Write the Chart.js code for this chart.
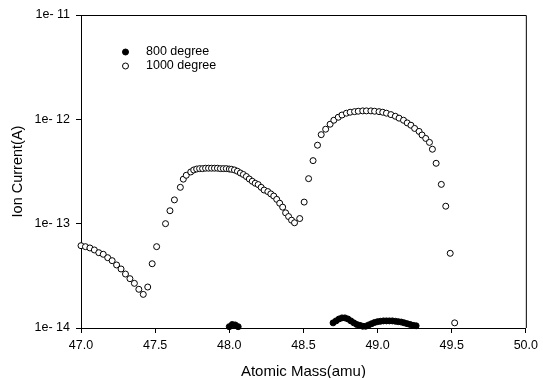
<!DOCTYPE html>
<html>
<head>
<meta charset="utf-8">
<script src="https://cdn.jsdelivr.net/npm/chart.js@4"></script>
<style>
  html, body { margin: 0; padding: 0; background: #fff; }
  #wrap { width: 543px; height: 378px; }
</style>
</head>
<body>
<div id="wrap"><canvas id="chart"></canvas></div>
<script>
// 1000 degree (open circles)
const mass1000 = [
    47.00, 47.03, 47.06, 47.09, 47.12, 47.15, 47.18, 47.21, 47.24, 47.27,
    47.30, 47.33, 47.36, 47.39, 47.42, 47.45, 47.48, 47.51, 47.57, 47.60,
    47.63, 47.67, 47.69, 47.71, 47.74, 47.76, 47.78, 47.80, 47.82, 47.84,
    47.86, 47.88, 47.90, 47.92, 47.94, 47.96, 47.98, 48.00, 48.015, 48.035,
    48.055, 48.075, 48.095, 48.115, 48.135, 48.155, 48.175, 48.195, 48.215, 48.235,
    48.26, 48.28, 48.30, 48.32, 48.34, 48.36, 48.38, 48.40, 48.42, 48.44,
    48.475, 48.505, 48.535, 48.565, 48.595, 48.62, 48.65, 48.68, 48.705, 48.735,
    48.76, 48.79, 48.815, 48.845, 48.87, 48.90, 48.925, 48.955, 48.98, 49.01,
    49.035, 49.06, 49.09, 49.12, 49.145, 49.175, 49.20, 49.225, 49.25, 49.28,
    49.30, 49.325, 49.35, 49.37, 49.395, 49.43, 49.46, 49.49, 49.52
];
const current1000 = [
    6.15e-14, 6.02e-14, 5.85e-14, 5.60e-14, 5.27e-14, 5.09e-14, 4.72e-14, 4.42e-14, 4.02e-14, 3.68e-14,
    3.29e-14, 2.97e-14, 2.68e-14, 2.35e-14, 2.10e-14, 2.47e-14, 4.13e-14, 6.02e-14, 1.00e-13, 1.33e-13,
    1.69e-13, 2.23e-13, 2.67e-13, 2.91e-13, 3.13e-13, 3.27e-13, 3.34e-13, 3.37e-13, 3.37e-13, 3.40e-13,
    3.40e-13, 3.40e-13, 3.40e-13, 3.40e-13, 3.37e-13, 3.37e-13, 3.37e-13, 3.34e-13, 3.32e-13, 3.27e-13,
    3.18e-13, 3.06e-13, 2.96e-13, 2.83e-13, 2.68e-13, 2.55e-13, 2.44e-13, 2.37e-13, 2.23e-13, 2.10e-13,
    2.03e-13, 1.93e-13, 1.84e-13, 1.71e-13, 1.57e-13, 1.44e-13, 1.27e-13, 1.17e-13, 1.08e-13, 1.02e-13,
    1.12e-13, 1.61e-13, 2.70e-13, 4.02e-13, 5.65e-13, 7.13e-13, 8.04e-13, 8.98e-13, 9.80e-13, 1.047e-12,
    1.10e-12, 1.145e-12, 1.17e-12, 1.185e-12, 1.196e-12, 1.205e-12, 1.205e-12, 1.205e-12, 1.196e-12, 1.185e-12,
    1.17e-12, 1.145e-12, 1.11e-12, 1.07e-12, 1.026e-12, 9.80e-13, 9.24e-13, 8.78e-13, 8.18e-13, 7.66e-13,
    7.08e-13, 6.56e-13, 6.01e-13, 5.17e-13, 3.79e-13, 2.38e-13, 1.47e-13, 5.20e-14, 1.12e-14
];

// 800 degree (filled circles)
const mass800 = [
    48.00, 48.02, 48.04, 48.06,
    48.70, 48.72, 48.74, 48.76, 48.78, 48.80, 48.82, 48.84, 48.86, 48.88,
    48.90, 48.92, 48.94, 48.96, 48.98, 49.00, 49.02, 49.04, 49.06, 49.08,
    49.10, 49.12, 49.14, 49.16, 49.18, 49.20, 49.22, 49.24, 49.26
];
const current800 = [
    1.03e-14, 1.08e-14, 1.07e-14, 1.03e-14,
    1.12e-14, 1.17e-14, 1.22e-14, 1.25e-14, 1.25e-14, 1.22e-14, 1.17e-14, 1.12e-14, 1.08e-14, 1.06e-14,
    1.04e-14, 1.04e-14, 1.07e-14, 1.10e-14, 1.13e-14, 1.15e-14, 1.16e-14, 1.17e-14, 1.17e-14, 1.17e-14,
    1.17e-14, 1.16e-14, 1.15e-14, 1.14e-14, 1.12e-14, 1.10e-14, 1.08e-14, 1.06e-14, 1.05e-14
];

const xTicks = [47.0, 47.5, 48.0, 48.5, 49.0, 49.5, 50.0];
const yTicks = [1e-14, 1e-13, 1e-12, 1e-11];
const yTickLabels = ['1e- 14', '1e- 13', '1e- 12', '1e- 11'];
const seriesNames = ['800 degree', '1000 degree'];

const FONT = "'Liberation Sans', Arial, sans-serif";

function toPoints(xs, ys) {
    return xs.map((x, i) => ({ x: x, y: ys[i] }));
}

// box around the plot + legend in the upper left
const framePlugin = {
    id: 'frame',
    afterDraw(chart) {
        const { ctx, chartArea: a } = chart;
        ctx.save();
        ctx.strokeStyle = '#000';
        ctx.lineWidth = 1;
        ctx.beginPath();
        ctx.moveTo(a.left, a.top + 0.5);
        ctx.lineTo(a.right + 0.5, a.top + 0.5);
        ctx.lineTo(a.right + 0.5, a.bottom);
        ctx.stroke();

        ctx.font = '12.5px ' + FONT;
        ctx.textBaseline = 'middle';
        ctx.fillStyle = '#000';
        const rows = [
            { y: 52, fill: '#000' },
            { y: 66, fill: '#fff' }
        ];
        rows.forEach((r, i) => {
            ctx.beginPath();
            ctx.arc(125.5, r.y, 3, 0, Math.PI * 2);
            ctx.fillStyle = r.fill;
            ctx.fill();
            ctx.stroke();
            ctx.fillStyle = '#000';
            ctx.fillText(seriesNames[i], 146, r.y);
        });
        ctx.restore();
    }
};

new Chart(document.getElementById('chart'), {
    type: 'scatter',
    data: {
        datasets: [
            {
                label: seriesNames[0],
                data: toPoints(mass800, current800),
                backgroundColor: '#000',
                borderColor: '#000',
                borderWidth: 1,
                pointRadius: 3,
                clip: false
            },
            {
                label: seriesNames[1],
                data: toPoints(mass1000, current1000),
                backgroundColor: '#fff',
                borderColor: '#000',
                borderWidth: 1,
                pointRadius: 3,
                clip: false
            }
        ]
    },
    options: {
        responsive: true,
        maintainAspectRatio: false,
        animation: false,
        layout: { padding: { top: 15, right: 15, left: 0, bottom: 0 } },
        plugins: {
            legend: { display: false },
            tooltip: { enabled: false }
        },
        scales: {
            x: {
                type: 'linear',
                min: 47,
                max: 50,
                afterFit(scale) { scale.height = 50; },
                afterBuildTicks(scale) { scale.ticks = xTicks.map(v => ({ value: v })); },
                ticks: {
                    color: '#000',
                    font: { family: FONT, size: 12.5 },
                    padding: 5,
                    maxRotation: 0,
                    callback: v => v.toFixed(1)
                },
                grid: { display: true, drawOnChartArea: false, drawTicks: true, tickLength: 5, color: '#000' },
                border: { display: true, color: '#000', width: 1 },
                title: {
                    display: true,
                    text: 'Atomic Mass(amu)',
                    color: '#000',
                    font: { family: FONT, size: 15 },
                    padding: { top: 0, bottom: -3 }
                }
            },
            y: {
                type: 'logarithmic',
                min: 1e-14,
                max: 1e-11,
                afterFit(scale) { scale.width = 81; },
                afterBuildTicks(scale) { scale.ticks = yTicks.map(v => ({ value: v })); },
                ticks: {
                    color: '#000',
                    font: { family: FONT, size: 12.5 },
                    padding: 6,
                    callback: (v) => yTickLabels[yTicks.findIndex(t => Math.abs(Math.log10(t) - Math.log10(v)) < 1e-6)]
                },
                grid: { display: true, drawOnChartArea: false, drawTicks: true, tickLength: 5, color: '#000' },
                border: { display: true, color: '#000', width: 1 },
                title: {
                    display: true,
                    text: 'Ion Current(A)',
                    color: '#000',
                    font: { family: FONT, size: 14.5 },
                    padding: { top: 9, bottom: 0 }
                }
            }
        }
    },
    plugins: [framePlugin]
});
</script>
</body>
</html>
